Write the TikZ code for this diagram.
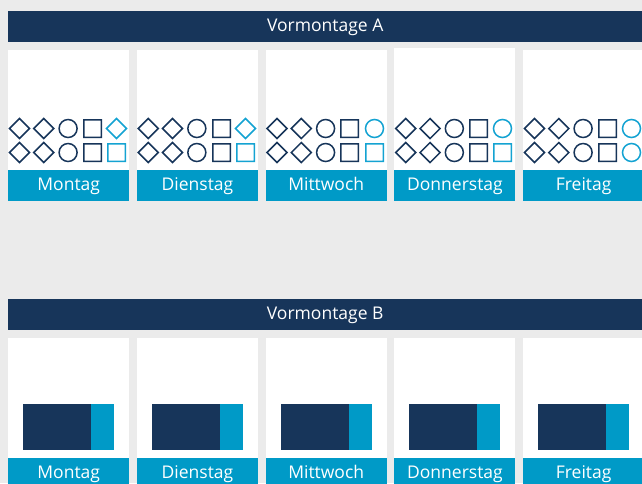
\documentclass[tikz,border=0pt]{standalone}
\usepackage{fontspec}
\setmainfont{Open Sans}
\definecolor{navy}{HTML}{17355A}
\definecolor{cyanb}{HTML}{009AC7}
\definecolor{cyanl}{HTML}{14A3D2}
\definecolor{bgc}{HTML}{EBEBEB}
\begin{document}
\begin{tikzpicture}[x=1pt,y=-1pt,
  bar/.style={fill=navy,text=white,inner sep=0,minimum height=31pt,minimum width=634pt,anchor=north west,text height=12.5pt,text depth=3.5pt,font=\fontsize{17.5}{19}\selectfont},
  card/.style={fill=white,inner sep=0,minimum width=121pt,anchor=north west},
  daylabel/.style={fill=cyanb,text=white,inner sep=0,minimum width=121pt,minimum height=31pt,anchor=north west,text height=12.5pt,text depth=3.5pt,font=\fontsize{17.5}{19}\selectfont},
  shp/.style={draw=#1,line width=1.5pt},
  pics/dia/.style={code={\draw[shp=#1] (-10,0) -- (0,-10) -- (10,0) -- (0,10) -- cycle;}},
  pics/circ/.style={code={\draw[shp=#1] (0,0) circle[radius=9];}},
  pics/sq/.style={code={\fill[#1,even odd rule] (-9.5,-9.5) rectangle (9.5,9.5) (-8,-8) rectangle (8,8);}}
]
\fill[bgc] (0,0) rectangle (642,483);
\useasboundingbox (0,0) rectangle (642,483);

\node[bar] (barA) at (8,11) {Vormontage A};
\node[bar] (barB) at (8,299) {Vormontage B};

\foreach \i/\d/\top/\lastA/\lastB in {0/Montag/50/dia/sq,1/Dienstag/50/dia/sq,2/Mittwoch/50/circ/sq,3/Donnerstag/48/circ/sq,4/Freitag/50/circ/circ}{
  \pgfmathsetmacro{\xl}{8+128.75*\i}
  \pgfmathsetmacro{\xs}{floor(\xl+84.4)+0.5}
  \pgfmathsetmacro{\xe}{floor(\xl+108.7)+0.5}
  % top card
  \node[card,minimum height={170-\top}] (cA\i) at (\xl,\top) {};
  \node[daylabel] (lA\i) at (\xl,170) {\d};
  \foreach \r in {128.5,152.5}{
    \pic at ({\xl+11.5},\r) {dia=navy};
    \pic at ({\xl+35.8},\r) {dia=navy};
    \pic at ({\xl+60.1},\r) {circ=navy};
    \pic at (\xs,\r) {sq=navy};
  }
  \pic at (\xe,128.5) {\lastA=cyanl};
  \pic at (\xe,152.5) {\lastB=cyanl};
  % bottom card
  \node[card,minimum height=120pt] (cB\i) at (\xl,338) {};
  \node[daylabel] (lB\i) at (\xl,458) {\d};
  \fill[navy] ({\xl+15},404) rectangle ({\xl+83},450);
  \fill[cyanb] ({\xl+83},404) rectangle ({\xl+106},450);
}
\end{tikzpicture}
\end{document}
